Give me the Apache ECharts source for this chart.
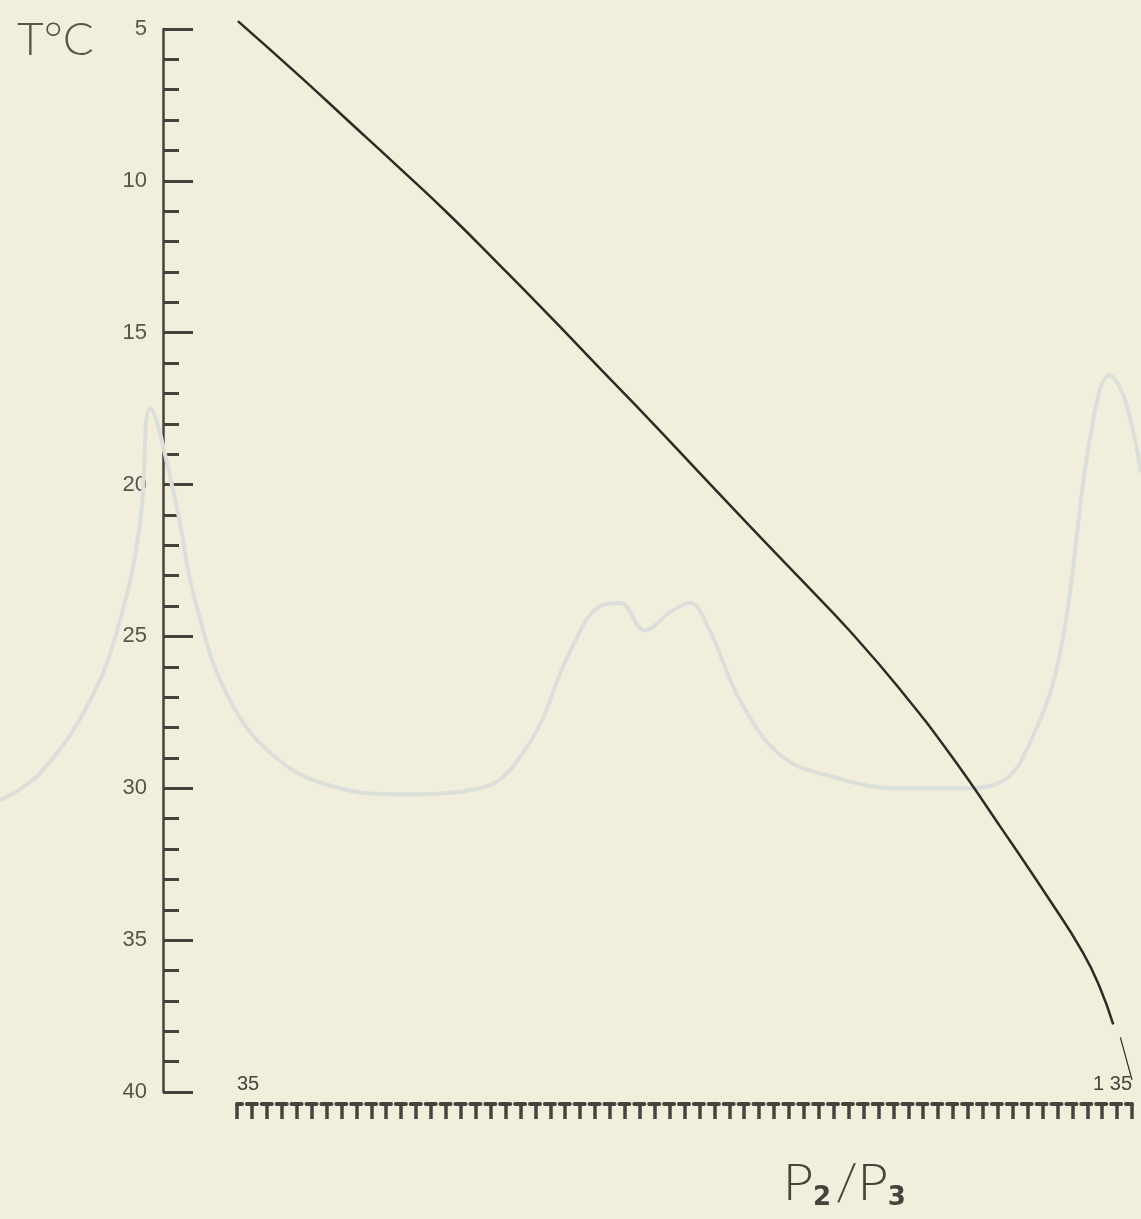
<!DOCTYPE html>
<html>
<head>
<meta charset="utf-8">
<script src="https://cdn.jsdelivr.net/npm/echarts@6/dist/echarts.min.js"></script>
<style>
  html, body { margin: 0; padding: 0; background: #f1eedc; }
  #main { width: 1141px; height: 1219px; }
</style>
</head>
<body>
<div id="main"></div>
<script>
  // rapport P2/P3 (x) en fonction de T°C (y, axe inversé)
  var ratio = [0.351, 0.420, 0.476, 0.532, 0.588, 0.644, 0.700, 0.756, 0.812, 0.867, 0.923, 0.979, 1.035, 1.091, 1.147, 1.203, 1.258, 1.295, 1.314, 1.329];
  var temp  = [4.74, 6.55, 8.07, 9.59, 11.14, 12.79, 14.47, 16.19, 17.90, 19.62, 21.37, 23.09, 24.83, 26.75, 28.89, 31.27, 33.68, 35.40, 36.55, 37.77];
  // petit trait vers l'étiquette 1.35
  var leaderX = [1.337, 1.350];
  var leaderT = [38.2, 39.6];
  // courbe fantôme (transparence du verso)
  var ghostX = [0.085, 0.130, 0.186, 0.219, 0.242, 0.253, 0.281, 0.303, 0.342, 0.398, 0.465, 0.532, 0.622, 0.677, 0.722, 0.756, 0.778, 0.806, 0.834, 0.856, 0.878, 0.912, 0.957, 1.013, 1.091, 1.158, 1.203, 1.236, 1.270, 1.303, 1.325, 1.342, 1.360];
  var ghostT = [30.4, 29.5, 27.1, 24.5, 21.2, 17.5, 20.5, 23.8, 27.1, 29.1, 30.0, 30.2, 30.0, 28.5, 25.5, 24.0, 23.9, 24.8, 24.2, 23.9, 24.8, 27.1, 28.9, 29.6, 30.0, 30.0, 29.8, 28.5, 25.5, 18.5, 16.4, 17.2, 19.6];
  var yTicks = ['5', '10', '15', '20', '25', '30', '35', '40'];

  function pairs(xs, ys) {
    return xs.map(function (x, i) { return [x, ys[i]]; });
  }

  var ink = '#48423c';
  var myChart = echarts.init(document.getElementById('main'));

  option = {
    backgroundColor: '#f1eedc',
    animation: false,
    title: [
      {
        text: 'T°C',
        left: 12, top: 12,
        textStyle: { color: '#5a534c', fontSize: 46, fontWeight: 300, fontFamily: 'Lato' }
      },
      {
        text: '{p|P}{s|2}{p|/}{p|P}{s|3}',
        left: 778, top: 1150,
        textStyle: {
          rich: {
            p: { color: ink, fontSize: 52, fontFamily: 'Lato', fontWeight: 300 },
            s: { color: ink, fontSize: 26, fontFamily: 'DejaVu Sans', fontWeight: 'bold', padding: [30, 4, 0, 0] }
          }
        }
      }
    ],
    grid: [
      { left: 237, right: 9, top: 29, bottom: 127 },
      // même hauteur, toute la largeur, pour la courbe fantôme
      { left: 0, right: 0, top: 29, bottom: 127 }
    ],
    xAxis: [
      {
        type: 'value',
        gridIndex: 0,
        min: 0.35,
        max: 1.35,
        interval: 1 / 60,
        position: 'bottom',
        offset: 12,
        splitLine: { show: false },
        axisLine: { show: true, lineStyle: { color: ink, width: 4, type: [10, 4.9], dashOffset: 5 } },
        axisTick: { show: true, length: 15, lineStyle: { color: ink, width: 3.5 } },
        axisLabel: {
          inside: true,
          margin: 10,
          color: ink,
          fontSize: 20,
          fontFamily: 'Liberation Sans',
          alignMinLabel: 'left',
          alignMaxLabel: 'right',
          formatter: function (v) {
            if (Math.abs(v - 0.35) < 1e-6) return '35';
            if (Math.abs(v - 1.35) < 1e-6) return '1 35';
            return '';
          }
        }
      },
      {
        type: 'value',
        gridIndex: 1,
        min: 0.35 - 237 / 895,
        max: 1.35 + 9 / 895,
        show: false
      }
    ],
    yAxis: [
      {
        type: 'value',
        gridIndex: 0,
        inverse: true,
        min: 5,
        max: 40,
        interval: 5,
        position: 'left',
        offset: 74,
        splitLine: { show: false },
        axisLine: { show: true, lineStyle: { color: ink, width: 2.5 } },
        axisTick: { show: true, inside: true, length: 30, lineStyle: { color: ink, width: 3 } },
        minorTick: { show: true, splitNumber: 5, length: 16, lineStyle: { color: ink, width: 3 } },
        axisLabel: {
          margin: 16,
          color: '#5a534c',
          fontSize: 22,
          fontFamily: 'Liberation Sans',
          formatter: function (v) { return yTicks[Math.round((v - 5) / 5)]; }
        }
      },
      {
        type: 'value',
        gridIndex: 1,
        inverse: true,
        min: 5,
        max: 40,
        show: false
      }
    ],
    series: [
      {
        name: 'ghost',
        type: 'line',
        xAxisIndex: 1,
        yAxisIndex: 1,
        data: pairs(ghostX, ghostT),
        smooth: 0.4,
        showSymbol: false,
        silent: true,
        z: 1,
        lineStyle: { color: '#dcdfd9', width: 4 }
      },
      {
        name: 'P2/P3',
        type: 'line',
        data: pairs(ratio, temp),
        smooth: 0.5,
        showSymbol: false,
        clip: false,
        z: 5,
        lineStyle: { color: '#2e2a26', width: 2.5 }
      },
      {
        name: 'leader',
        type: 'line',
        data: pairs(leaderX, leaderT),
        showSymbol: false,
        clip: false,
        z: 5,
        lineStyle: { color: '#2e2a26', width: 1.2 }
      }
    ]
  };
  myChart.setOption(option);
</script>
</body>
</html>
